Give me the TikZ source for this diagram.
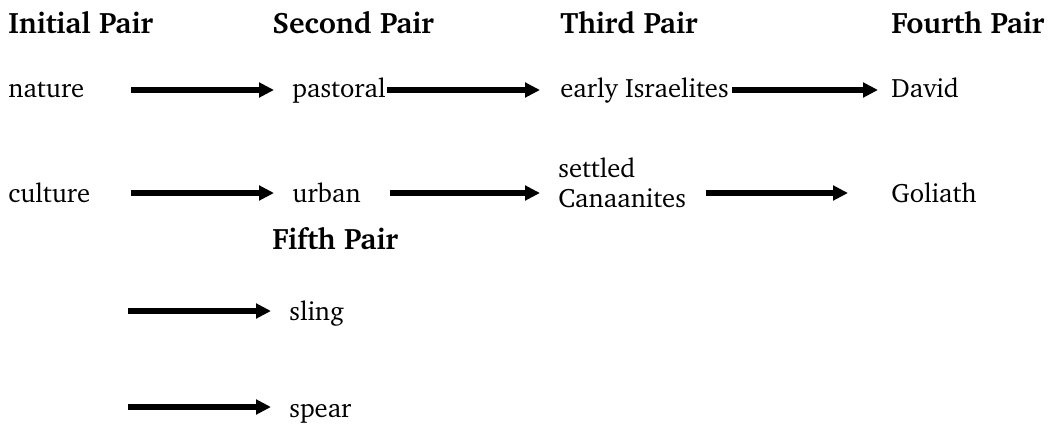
\documentclass[tikz,border=0pt]{standalone}
\usepackage[T1]{fontenc}
\usepackage{charter}
\usetikzlibrary{arrows.meta}
\begin{document}
\begin{tikzpicture}[x=0.5pt,y=-0.5pt,
  lbl/.style={anchor=base west,inner sep=0pt,font=\fontsize{13.3}{16}\selectfont},
  head/.style={lbl,font=\fontsize{14.8}{17.8}\selectfont\bfseries},
  arr/.style={line width=2.8pt,-{Triangle[length=7.5pt,width=7.2pt]}}]
\useasboundingbox (0,0) rectangle (1058,423);
% column headings
\node[head] (h1) at (8,33) {Initial Pair};
\node[head] (h2) at (272,33) {Second Pair};
\node[head] (h3) at (560,33) {Third Pair};
\node[head] (h4) at (891,33) {Fourth Pair};
\node[head] (h5) at (272,249) {Fifth Pair};
% first row
\node[lbl] (nature) at (8,97) {nature};
\node[lbl] (pastoral) at (292,97) {pastoral};
\node[lbl] (israel) at (560,97) {early Israelites};
\node[lbl] (david) at (891,97) {David};
% second row
\node[lbl] (culture) at (8,202) {culture};
\node[lbl] (urban) at (292,202) {urban};
\node[lbl] (settled) at (558,177) {settled};
\node[lbl] (canaan) at (558,207) {Canaanites};
\node[lbl] (goliath) at (891,202) {Goliath};
% fifth pair
\node[lbl] (sling) at (289,320) {sling};
\node[lbl] (spear) at (289,417) {spear};
% arrow end points
\coordinate (a1s) at (131,90);  \coordinate (a1e) at (274,90);
\coordinate (a2s) at (387,90);  \coordinate (a2e) at (540,90);
\coordinate (a3s) at (732,90);  \coordinate (a3e) at (878,90);
\coordinate (b1s) at (131,193); \coordinate (b1e) at (274,193);
\coordinate (b2s) at (390,193); \coordinate (b2e) at (540,193);
\coordinate (b3s) at (706,193); \coordinate (b3e) at (848,193);
\coordinate (c1s) at (128,311); \coordinate (c1e) at (271,311);
\coordinate (c2s) at (128,407); \coordinate (c2e) at (271,407);
\draw[arr] (a1s) -- (a1e);
\draw[arr] (a2s) -- (a2e);
\draw[arr] (a3s) -- (a3e);
\draw[arr] (b1s) -- (b1e);
\draw[arr] (b2s) -- (b2e);
\draw[arr] (b3s) -- (b3e);
\draw[arr] (c1s) -- (c1e);
\draw[arr] (c2s) -- (c2e);
\end{tikzpicture}
\end{document}
